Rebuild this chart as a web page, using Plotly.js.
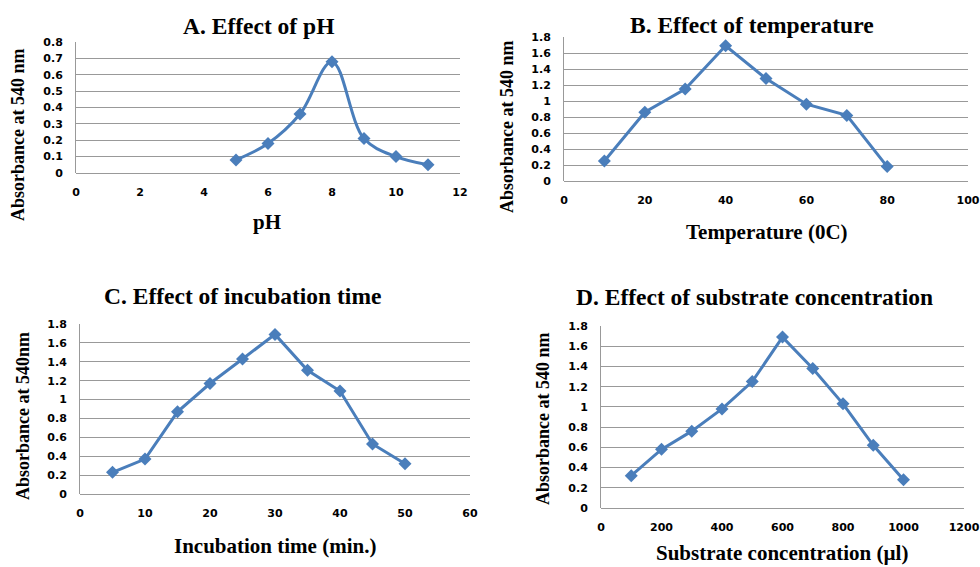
<!DOCTYPE html>
<html><head><meta charset="utf-8">
<script src="https://cdn.plot.ly/plotly-3.0.1.min.js"></script>
<style>html,body{margin:0;padding:0;background:#fff;}#chart{width:980px;height:567px;}</style>
</head><body><div id="chart"></div>
<script>
// ---- data ----
var phX = [5, 6, 7, 8, 9, 10, 11];
var phY = [0.08, 0.18, 0.36, 0.68, 0.21, 0.10, 0.05];
var tempX = [10, 20, 30, 40, 50, 60, 70, 80];
var tempY = [0.25, 0.86, 1.15, 1.69, 1.28, 0.96, 0.82, 0.18];
var timeX = [5, 10, 15, 20, 25, 30, 35, 40, 45, 50];
var timeY = [0.23, 0.37, 0.87, 1.17, 1.43, 1.69, 1.31, 1.09, 0.53, 0.32];
var concX = [100, 200, 300, 400, 500, 600, 700, 800, 900, 1000];
var concY = [0.32, 0.58, 0.76, 0.98, 1.25, 1.69, 1.38, 1.03, 0.62, 0.28];

var titles = ["A. Effect of pH", "B. Effect of temperature", "C. Effect of incubation time", "D. Effect of substrate concentration"];
var xTitles = ["pH", "Temperature (0C)", "Incubation time (min.)", "Substrate concentration (µl)"];
var yTitles = ["Absorbance at 540 nm", "Absorbance at 540 nm", "Absorbance at 540nm", "Absorbance at 540 nm"];

// ---- layout helpers (pixel boxes) ----
var W = 980, H = 567;
function px(x){ return x / W; }
function py(y){ return 1 - y / H; }
var boxes = [
  {l:76, r:460, t:42, b:173, xr:[0,12], xd:2, yr:[0,0.8], yd:0.1, titleX:258, titleY:26, xtX:267, xtY:222, ytX:18, ytY:135},
  {l:564, r:968, t:37, b:181, xr:[0,100], xd:20, yr:[0,1.8], yd:0.2, titleX:752, titleY:25, xtX:767, xtY:232, ytX:507, ytY:127},
  {l:80, r:470, t:324, b:494, xr:[0,60], xd:10, yr:[0,1.8], yd:0.2, titleX:242, titleY:296, xtX:275, xtY:546, ytX:23, ytY:416},
  {l:601, r:964, t:326, b:508, xr:[0,1200], xd:200, yr:[0,1.8], yd:0.2, titleX:754, titleY:297, xtX:782, xtY:553, ytX:543, ytY:419}
];
var series = [[phX, phY, 'spline'], [tempX, tempY, 'linear'], [timeX, timeY, 'linear'], [concX, concY, 'linear']];

var lineColor = '#4a7ebb';
var tickFont = {family: 'DejaVu Sans', size: 11, color: '#000', weight: 'bold'};
var serif = 'Liberation Serif, Times New Roman, serif';

var data = [];
var layout = {width: W, height: H, margin: {l:0, r:0, t:0, b:0}, showlegend: false,
  paper_bgcolor: '#fff', plot_bgcolor: '#fff', annotations: []};

boxes.forEach(function(b, i){
  var n = i === 0 ? '' : String(i + 1);
  data.push({
    x: series[i][0], y: series[i][1], type: 'scatter', mode: 'lines+markers',
    xaxis: 'x' + n, yaxis: 'y' + n,
    line: {color: lineColor, width: 3, shape: series[i][2], smoothing: 1},
    marker: {symbol: 'diamond', size: 10, color: lineColor}
  });
  layout['xaxis' + n] = {
    domain: [px(b.l), px(b.r)], range: b.xr, dtick: b.xd, tick0: 0,
    anchor: 'y' + n, showgrid: false, zeroline: false, showline: false,
    ticks: '', tickfont: tickFont, ticklabelstandoff: 11, fixedrange: true
  };
  layout['yaxis' + n] = {
    domain: [py(b.b), py(b.t)], range: b.yr, dtick: b.yd, tick0: 0,
    anchor: 'x' + n, showgrid: true, gridcolor: '#999', gridwidth: 1,
    zeroline: true, zerolinecolor: '#999', zerolinewidth: 1,
    showline: true, linecolor: '#999', linewidth: 1,
    ticks: '', tickfont: tickFont, ticklabelstandoff: 10, fixedrange: true
  };
  layout.annotations.push({text: '<b>' + titles[i] + '</b>', xref: 'paper', yref: 'paper',
    x: px(b.titleX), y: py(b.titleY), xanchor: 'center', yanchor: 'middle', showarrow: false,
    font: {family: serif, size: 23.5, color: '#000'}});
  layout.annotations.push({text: '<b>' + xTitles[i] + '</b>', xref: 'paper', yref: 'paper',
    x: px(b.xtX), y: py(b.xtY), xanchor: 'center', yanchor: 'middle', showarrow: false,
    font: {family: serif, size: 21, color: '#000'}});
  layout.annotations.push({text: '<b>' + yTitles[i] + '</b>', xref: 'paper', yref: 'paper',
    x: px(b.ytX), y: py(b.ytY), xanchor: 'center', yanchor: 'middle', showarrow: false, textangle: -90,
    font: {family: serif, size: 18, color: '#000'}});
});

Plotly.newPlot('chart', data, layout, {displayModeBar: false, staticPlot: true});
</script></body></html>
